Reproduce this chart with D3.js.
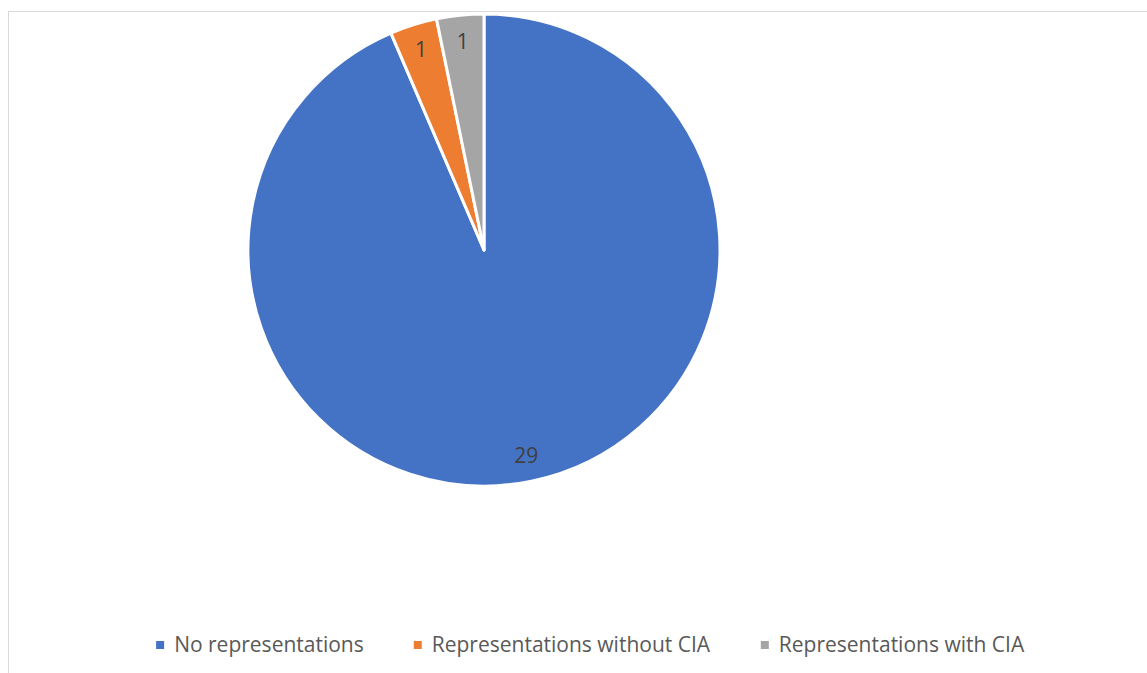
<!DOCTYPE html>
<html>
<head>
<meta charset="utf-8">
<script src="https://cdn.jsdelivr.net/npm/d3@7"></script>
<style>
  html, body { margin: 0; padding: 0; background: #fff; }
  svg { display: block; }
</style>
</head>
<body>
<svg id="chart" width="1147" height="673"></svg>
<script>
// Categories and counts
const categories = ["No representations", "Representations without CIA", "Representations with CIA"];
const counts = [29, 1, 1];
const colors = ["#4472c4", "#ed7d31", "#a5a5a5"];

const width = 1147, height = 673;
const svg = d3.select("#chart");

// Chart frame
svg.append("rect")
  .attr("x", 8.5).attr("y", 11.5)
  .attr("width", width + 10).attr("height", height + 10)
  .attr("fill", "#fff")
  .attr("stroke", "#d9d9d9").attr("stroke-width", 1);

const cx = 484, cy = 250, R = 236;

const pie = d3.pie().sort(null).value(d => d.value);
const arcs = pie(categories.map((c, i) => ({ name: c, value: counts[i], color: colors[i] })));
const arc = d3.arc().innerRadius(0).outerRadius(R);
const labelArc = d3.arc().innerRadius(R * 0.89).outerRadius(R * 0.89);

const g = svg.append("g").attr("transform", `translate(${cx},${cy})`);

g.selectAll("path.slice")
  .data(arcs)
  .join("path")
  .attr("class", "slice")
  .attr("d", arc)
  .attr("fill", d => d.data.color)
  .attr("stroke", "#fff")
  .attr("stroke-width", 3)
  .attr("stroke-linejoin", "round");

g.selectAll("text.value")
  .data(arcs)
  .join("text")
  .attr("class", "value")
  .attr("transform", d => `translate(${labelArc.centroid(d)})`)
  .attr("text-anchor", "middle")
  .attr("dy", "0.36em")
  .attr("font-family", "'Open Sans', sans-serif")
  .attr("font-size", 21)
  .attr("fill", "#404040")
  .text(d => d.data.value);

// Legend
const legend = svg.append("g");
const legendY = 645;
const items = legend.selectAll("g.item")
  .data(categories)
  .join("g")
  .attr("class", "item");

items.append("rect")
  .attr("width", 8).attr("height", 8)
  .attr("y", legendY - 4)
  .attr("fill", (d, i) => colors[i]);

items.append("text")
  .attr("x", 18)
  .attr("y", legendY)
  .attr("dy", "0.35em")
  .attr("font-family", "'Open Sans', sans-serif")
  .attr("font-size", 21)
  .attr("fill", "#595959")
  .text(d => d);

// Lay out legend entries side by side, centred
const gap = 50;
const widths = [];
items.each(function() { widths.push(this.getBBox().width); });
const total = d3.sum(widths) + gap * (widths.length - 1);
let x = 590.5 - total / 2;
items.each(function(d, i) {
  d3.select(this).attr("transform", `translate(${x},0)`);
  x += widths[i] + gap;
});
</script>
</body>
</html>
